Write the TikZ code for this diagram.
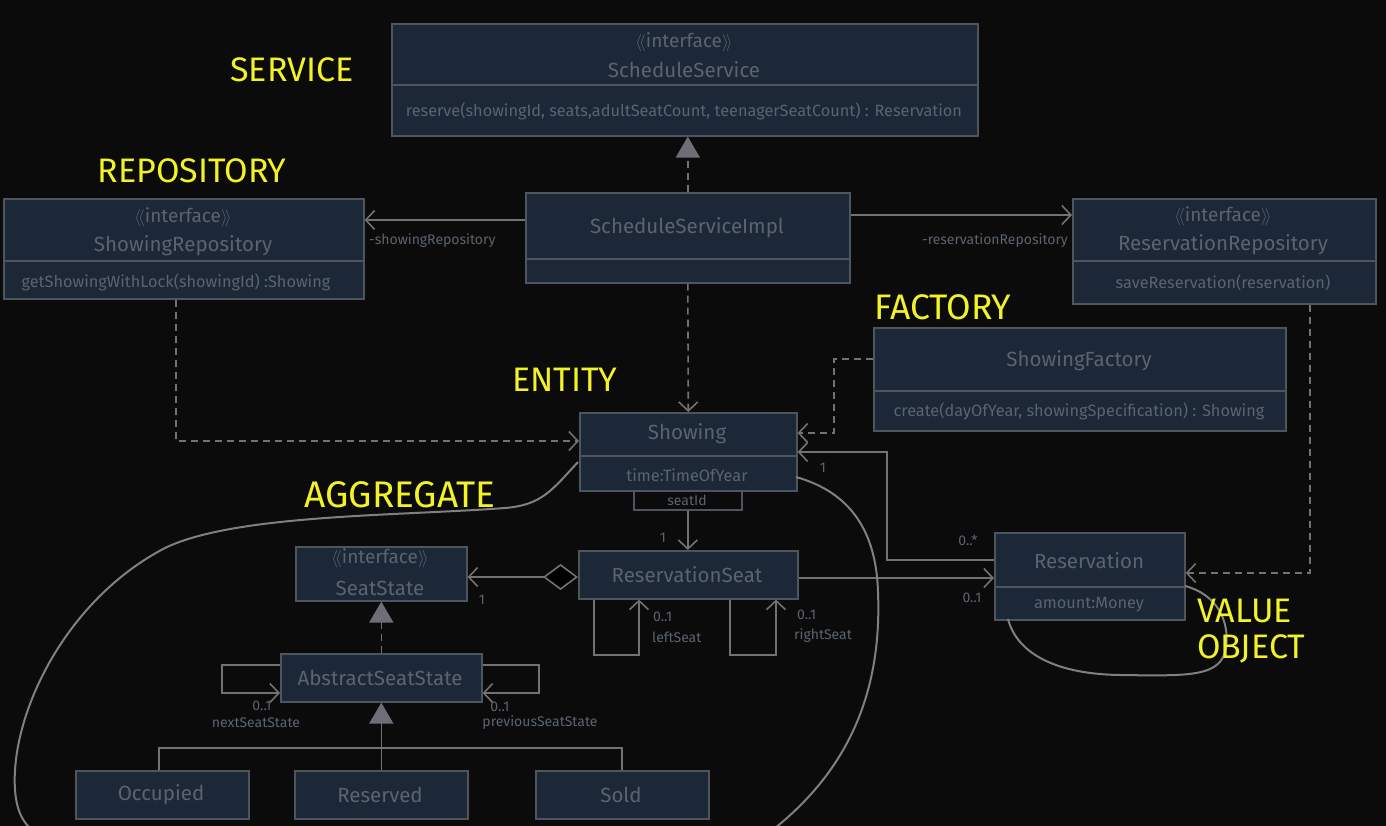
\documentclass[tikz,border=0pt]{standalone}
\usepackage{fontspec}
\setmainfont{Fira Sans}
\usetikzlibrary{arrows.meta}
\definecolor{bgc}{HTML}{0B0B0B}
\definecolor{boxfill}{HTML}{1C2838}
\definecolor{boxline}{HTML}{4E555D}
\definecolor{txtc}{HTML}{5B646E}
\definecolor{linec}{HTML}{727272}
\definecolor{tric}{HTML}{6E6E78}
\definecolor{yel}{HTML}{F2F226}
\newcommand{\stereo}{$\langle\!\langle$interface$\rangle\!\rangle$}
\tikzset{
  box/.style={draw=boxline, fill=boxfill, line width=1.6pt, inner sep=0pt, rectangle, anchor=north west},
  divl/.style={draw=boxline, line width=1.6pt},
  nm/.style={text=txtc, font=\fontsize{20.5}{20.5}\selectfont, inner sep=0pt},
  st/.style={text=txtc, font=\fontsize{19}{19}\selectfont, inner sep=0pt},
  mt/.style={text=txtc, font=\fontsize{16.3}{16.3}\selectfont, inner sep=0pt},
  sm/.style={text=txtc, font=\fontsize{14}{14}\selectfont, inner sep=0pt},
  ylab/.style={text=yel, font=\fontsize{34}{34}\selectfont, inner sep=0pt},
  conn/.style={draw=linec, line width=1.6pt},
  assoc/.style={conn, -{Straight Barb[length=9pt,width=19pt,line width=1.6pt]}},
  dep/.style={conn, dash pattern=on 7pt off 5pt, -{Straight Barb[length=9pt,width=19pt,line width=1.6pt]}},
  realize/.style={conn, dash pattern=on 7pt off 5pt, -{Triangle[length=21pt,width=24pt,fill=tric,color=tric]}},
  gen/.style={conn, -{Triangle[length=21pt,width=24pt,fill=tric,color=tric]}},
  curve/.style={draw=linec!90, line width=2pt},
}
\begin{document}
\begin{tikzpicture}[x=1pt,y=-1pt]
\useasboundingbox (0,0) rectangle (1386,826);
\fill[bgc] (0,0) rectangle (1386,826);
\begin{scope}
\clip (0,0) rectangle (1386,826);

% ---------- boxes ----------
\node[box, minimum width=586pt, minimum height=112pt] (ss) at (391,23) {};
\draw[divl] (391,85) -- (977,85);
\node[st] (ss-st) at (684,42) {\stereo};
\node[nm] (ss-nm) at (684,70) {ScheduleService};
\node[mt] (ss-mt) at (684,111) {reserve(showingId, seats,adultSeatCount, teenagerSeatCount) : Reservation};

\node[box, minimum width=360pt, minimum height=100pt] (srepo) at (3,198) {};
\draw[divl] (3,261) -- (363,261);
\node[st] (srepo-st) at (183,217) {\stereo};
\node[nm] (srepo-nm) at (183,246) {ShowingRepository};
\node[mt] (srepo-mt) at (176,282) {getShowingWithLock(showingId) :Showing};

\node[box, minimum width=324pt, minimum height=90pt] (impl) at (525,192) {};
\draw[divl] (525,259) -- (849,259);
\node[nm] (impl-nm) at (687,228) {ScheduleServiceImpl};

\node[box, minimum width=303pt, minimum height=105pt] (rrepo) at (1072,198) {};
\draw[divl] (1072,261) -- (1375,261);
\node[st] (rrepo-st) at (1223,216) {\stereo};
\node[nm] (rrepo-nm) at (1223,245) {ReservationRepository};
\node[mt] (rrepo-mt) at (1223,283) {saveReservation(reservation)};

\node[box, minimum width=412pt, minimum height=103pt] (fact) at (873,327) {};
\draw[divl] (873,391) -- (1285,391);
\node[nm] (fact-nm) at (1079,361) {ShowingFactory};
\node[mt] (fact-mt) at (1079,411) {create(dayOfYear, showingSpecification) : Showing};

\node[box, minimum width=217pt, minimum height=78pt] (showing) at (579,412) {};
\draw[divl] (579,456) -- (796,456);
\node[nm] (showing-nm) at (687,434) {Showing};
\node[mt] (showing-at) at (687,475) {time:TimeOfYear};

\node[draw=boxline, line width=1.6pt, anchor=north west, minimum width=108pt, minimum height=19pt, inner sep=0pt] (qual) at (633,490) {};
\node[sm] (qual-t) at (687,500) {seatId};

\node[box, minimum width=171pt, minimum height=54pt] (seatstate) at (295,546) {};
\node[st] (seatstate-st) at (380,558) {\stereo};
\node[nm] (seatstate-nm) at (380,588) {SeatState};

\node[box, minimum width=219pt, minimum height=48pt] (rseat) at (578,550) {};
\node[nm] (rseat-nm) at (687,575) {ReservationSeat};

\node[box, minimum width=201pt, minimum height=48pt] (abs) at (280,653) {};
\node[nm] (abs-nm) at (380,678) {AbstractSeatState};

\node[box, minimum width=173pt, minimum height=48pt] (occ) at (75,770) {};
\node[nm] (occ-nm) at (161,795) {Occupied};
\node[box, minimum width=173pt, minimum height=48pt] (res) at (294,770) {};
\node[nm] (res-nm) at (380,795) {Reserved};
\node[box, minimum width=173pt, minimum height=48pt] (sold) at (535,770) {};
\node[nm] (sold-nm) at (621,795) {Sold};

\node[box, minimum width=190pt, minimum height=87pt] (resv) at (994,532) {};
\draw[divl] (994,587) -- (1184,587);
\node[nm] (resv-nm) at (1089,561) {Reservation};
\node[mt] (resv-at) at (1089,605) {amount:Money};

% ---------- connectors ----------
\draw[realize] (impl.north) -- (impl.north |- ss.south);
\draw[assoc] (impl.west |- 0,220) -- (srepo.east |- 0,220);
\draw[assoc] (impl.east |- 0,215) -- (rrepo.west |- 0,215);
\node[sm, anchor=west] (l-srepo) at (369,241) {-showingRepository};
\node[sm, anchor=east] (l-rrepo) at (1068,241) {-reservationRepository};
\draw[dep] (impl.south) -- (showing.north);
\coordinate (c1) at (176,441);
\draw[dep] (srepo.south -| c1) -- (c1) -- (showing.west |- c1);
\coordinate (c2) at (834,359);
\coordinate (c3) at (834,433);
\draw[dep] (fact.west |- c2) -- (c2) -- (c3) -- (showing.east |- c3);
\coordinate (c4) at (1310,573);
\draw[dep] (rrepo.south -| c4) -- (c4) -- (resv.east |- c4);
\coordinate (c5) at (887,560);
\coordinate (c6) at (887,452);
\draw[assoc] (resv.west |- c5) -- (c5) -- (c6) -- (showing.east |- c6);
\node[sm] (m1) at (823,468) {1};
\node[sm] (m2) at (968,540) {0..*};
\coordinate (c7) at (0,578);
\draw[assoc] (rseat.east |- c7) -- (resv.west |- c7);
\node[sm] (m3) at (972,598) {0..1};
\draw[assoc] (qual.south) -- (qual.south |- rseat.north);
\node[sm] (m4) at (663,538) {1};
\coordinate (c8) at (0,577);
\draw[conn, {Diamond[length=35pt,width=26pt,fill=black,line width=1.6pt]}-{Straight Barb[length=9pt,width=19pt,line width=1.6pt]}] (rseat.west |- c8) -- (seatstate.east |- c8);
\node[sm] (m5) at (482,600) {1};
% rseat self loops
\draw[assoc] (rseat.south -| 594,0) -- (594,655) -- (639,655) -- (rseat.south -| 639,0);
\node[sm, anchor=west] (m6) at (653,617) {0..1};
\node[sm, anchor=west] (m7) at (652,637) {leftSeat};
\draw[assoc] (rseat.south -| 730,0) -- (730,655) -- (776,655) -- (rseat.south -| 776,0);
\node[sm, anchor=west] (m8) at (797,615) {0..1};
\node[sm, anchor=west] (m9) at (794,636) {rightSeat};
% abstract seat state
\draw[realize] (abs.north) -- (seatstate.south);
\draw[assoc] (abs.west |- 0,665) -- (222,665) -- (222,693) -- (abs.west |- 0,693);
\draw[assoc] (abs.east |- 0,665) -- (539,665) -- (539,693) -- (abs.east |- 0,693);
\node[sm] (m10) at (262,706) {0..1};
\node[sm] (m11) at (256,723) {nextSeatState};
\node[sm] (m12) at (500,707) {0..1};
\node[sm] (m13) at (540,723) {previousSeatState};
\draw[gen] (res.north) -- (abs.south);
\draw[conn] (occ.north -| 159,0) -- (159,748) -- (622,748) -- (sold.north -| 622,0);

% ---------- enclosing curves ----------
\draw[curve] (578,462) .. controls (552,490) and (542,505) .. (505,508) .. controls (400,516) and (235,514) .. (165,548) .. controls (65,600) and (10,715) .. (15,790) .. controls (17,815) and (25,826) .. (40,836);
\draw[curve] (796,477) .. controls (842,490) and (876,522) .. (878,592) .. controls (882,690) and (850,770) .. (770,832);
\draw[curve] (1185,586) .. controls (1216,594) and (1230,620) .. (1226,648) .. controls (1221,677) and (1190,676) .. (1120,675) .. controls (1050,674) and (1016,650) .. (1008,619);
\end{scope}

% ---------- yellow labels ----------
\node[ylab] (y1) at (292,70) {SERVICE};
\node[ylab] (y2) at (192,171) {REPOSITORY};
\node[ylab, font=\fontsize{35.5}{35.5}\selectfont] (y3) at (943,307) {FACTORY};
\node[ylab] (y4) at (565,380) {ENTITY};
\node[ylab, font=\fontsize{37}{37}\selectfont] (y5) at (400,495) {AGGREGATE};
\node[ylab, anchor=west] (y6) at (1197,611) {VALUE};
\node[ylab, anchor=west] (y7) at (1197,649) {OBJECT};
\end{tikzpicture}
\end{document}
